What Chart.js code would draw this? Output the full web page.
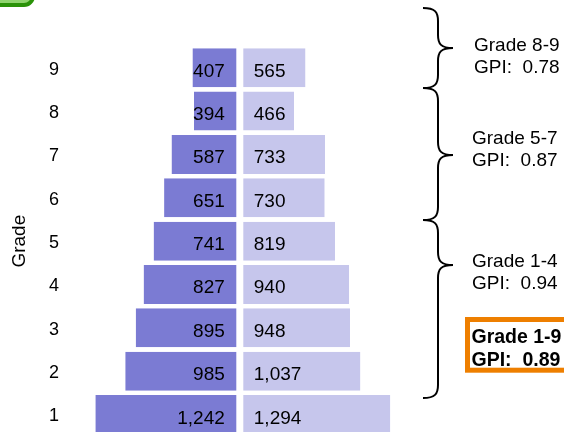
<!DOCTYPE html>
<html>
<head>
<meta charset="utf-8">
<script src="https://cdn.jsdelivr.net/npm/chart.js@4.4.0/dist/chart.umd.min.js"></script>
<style>
  html, body { margin: 0; padding: 0; background: #fff; overflow: hidden; }
  #wrap { position: relative; width: 564px; height: 432px; overflow: hidden; }
</style>
</head>
<body>
<div id="wrap"><canvas id="chart" width="564" height="458"></canvas></div>
<script>
// grades, top to bottom
const grades = ['9', '8', '7', '6', '5', '4', '3', '2', '1'];
const leftValues = [407, 394, 587, 651, 741, 827, 895, 985, 1242];
const rightValues = [565, 466, 733, 730, 819, 940, 948, 1037, 1294];

// bracket notes on the right
const groupNames = ['Grade 8-9', 'Grade 5-7', 'Grade 1-4'];
const groupGpi = ['0.78', '0.87', '0.94'];
const totalName = 'Grade 1-9';
const totalGpi = '0.89';

const FONT = '"Liberation Sans", Arial, sans-serif';

// numbers written inside the bars, next to the middle gap
const valueLabels = {
  id: 'valueLabels',
  afterDatasetsDraw(chart) {
    const ctx = chart.ctx;
    ctx.save();
    ctx.font = '19px ' + FONT;
    ctx.fillStyle = '#000';
    ctx.textBaseline = 'alphabetic';
    chart.data.datasets.forEach((ds, i) => {
      chart.getDatasetMeta(i).data.forEach((bar, j) => {
        const txt = Math.abs(ds.data[j]).toLocaleString('en-US');
        if (i === 0) {
          ctx.textAlign = 'right';
          ctx.fillText(txt, bar.base - 15, bar.y + 9);
        } else {
          ctx.textAlign = 'left';
          ctx.fillText(txt, bar.base + 14, bar.y + 9);
        }
      });
    });
    ctx.restore();
  }
};

function brace(ctx, x, y1, ym, y2) {
  const w = 15, h = 13;
  ctx.beginPath();
  ctx.moveTo(x - w, y1);
  ctx.bezierCurveTo(x - 3, y1, x, y1 + 4, x, y1 + h);
  ctx.lineTo(x, ym - h);
  ctx.bezierCurveTo(x, ym - 4, x + 3, ym, x + w, ym);
  ctx.bezierCurveTo(x + 3, ym, x, ym + 4, x, ym + h);
  ctx.lineTo(x, y2 - h);
  ctx.bezierCurveTo(x, y2 - 4, x - 3, y2, x - w, y2);
  ctx.stroke();
}

// braces, notes, total box and the green corner tab
const notes = {
  id: 'notes',
  afterDraw(chart) {
    const ctx = chart.ctx;
    ctx.save();

    // green tab in the corner
    ctx.beginPath();
    ctx.roundRect(-30, -30, 63, 35, 9);
    ctx.fillStyle = '#8fd46e';
    ctx.fill();
    ctx.lineWidth = 4;
    ctx.strokeStyle = '#2a9208';
    ctx.stroke();

    ctx.strokeStyle = '#000';
    ctx.lineWidth = 2;
    brace(ctx, 438, 8, 48, 88);
    brace(ctx, 438, 88, 155, 220);
    brace(ctx, 438, 220, 265, 398);

    ctx.fillStyle = '#000';
    ctx.textAlign = 'left';
    ctx.textBaseline = 'alphabetic';
    ctx.font = '19px ' + FONT;
    const spots = [[474, 50.7], [472, 143.5], [472, 266.5]];
    groupNames.forEach((name, i) => {
      const [x, y] = spots[i];
      ctx.fillText(name, x, y);
      ctx.fillText('GPI:  ' + groupGpi[i], x, y + 22);
    });

    ctx.strokeStyle = '#ee7f00';
    ctx.lineWidth = 5;
    ctx.strokeRect(467.5, 319.5, 110, 50.7);

    ctx.font = 'bold 19.5px ' + FONT;
    ctx.fillText(totalName, 471.5, 343.3);
    ctx.fillText('GPI:  ' + totalGpi, 471.5, 366);

    ctx.restore();
  }
};

new Chart(document.getElementById('chart'), {
  type: 'bar',
  data: {
    labels: grades,
    datasets: [
      {
        data: leftValues.map(v => -v),
        backgroundColor: '#7b7bd3',
        borderColor: '#ffffff',
        borderWidth: { top: 0, bottom: 0, left: 0, right: 3.5 },
        borderSkipped: false,
        barPercentage: 0.9,
        categoryPercentage: 1
      },
      {
        data: rightValues,
        backgroundColor: '#c6c6ec',
        borderColor: '#ffffff',
        borderWidth: { top: 0, bottom: 0, left: 3.5, right: 0 },
        borderSkipped: false,
        barPercentage: 0.9,
        categoryPercentage: 1
      }
    ]
  },
  options: {
    indexAxis: 'y',
    responsive: false,
    animation: false,
    events: [],
    layout: { padding: { top: 46.1, right: 154.4, bottom: 0, left: 0 } },
    plugins: {
      legend: { display: false },
      tooltip: { enabled: false }
    },
    scales: {
      x: {
        stacked: true,
        min: -1460,
        max: 1460,
        display: false
      },
      y: {
        stacked: true,
        grid: { display: false, drawTicks: false },
        border: { display: false },
        ticks: {
          color: '#000',
          font: { family: FONT, size: 18 },
          padding: 11,
          labelOffset: 2
        },
        title: {
          display: true,
          text: 'Grade',
          color: '#000',
          font: { family: FONT, size: 19 },
          padding: { top: 8, bottom: 0 }
        },
        afterFit(scale) { scale.width = 70; }
      }
    }
  },
  plugins: [valueLabels, notes]
});
</script>
</body>
</html>
